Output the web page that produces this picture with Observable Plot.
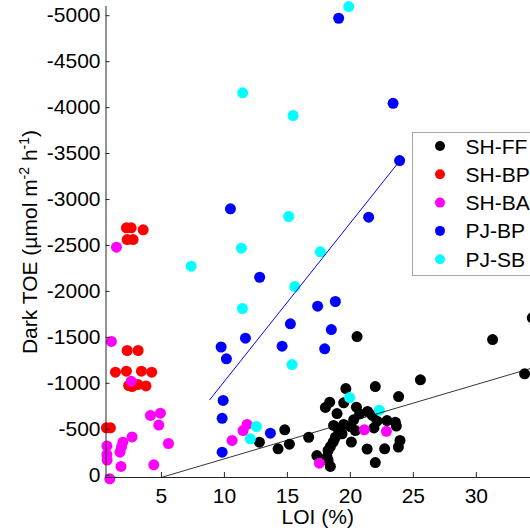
<!DOCTYPE html>
<html><head><meta charset="utf-8">
<script src="https://cdn.jsdelivr.net/npm/d3@7"></script>
<script src="https://cdn.jsdelivr.net/npm/@observablehq/plot@0.6"></script>
<style>html,body{margin:0;padding:0;background:#fff}svg{display:block}</style>
</head><body><div id="chart"></div>
<script>
const series = ["SH-FF", "SH-BP", "SH-BA", "PJ-BP", "PJ-SB"];
const colors = ["#000000", "#ff0000", "#ff00ff", "#0000ff", "#00ffff"];

const shffX = [20.53,31.29,34.44,33.83,25.56,21.98,19.64,23.83,19.47,18.36,18.02,18.94,20.48,21.37,21.75,20.74,20.26,22.12,22.91,23.57,23.65,18.67,19.47,20.00,19.07,19.34,20.40,21.87,18.81,18.63,18.41,18.23,16.69,15.16,20.08,23.94,23.81,21.33,22.72,17.34,18.15,18.23,21.98,18.41,14.79,12.78,14.26];
const shffY = [-1509,-1476,-1713,-1103,-1038,-965,-943,-856,-788,-794,-737,-671,-740,-693,-650,-668,-603,-588,-595,-577,-535,-541,-552,-530,-486,-450,-486,-514,-413,-359,-312,-269,-413,-337,-361,-378,-307,-285,-287,-214,-196,-160,-138,-95,-494,-359,-287];

const shbpX = [2.22,2.60,3.55,2.28,2.75,2.28,3.15,1.35,2.22,3.41,4.23,2.40,2.67,3.13,3.77,0.63,0.95];
const shbpY = [-2692,-2692,-2670,-2564,-2564,-1357,-1357,-1121,-1132,-1132,-1121,-976,-965,-987,-971,-516,-516];

const shbaX = [1.43,1.03,2.60,4.13,4.92,4.79,2.67,1.94,1.83,1.71,0.67,0.67,0.69,1.79,4.39,5.56,0.90,10.61,11.48,11.80,17.54,21.11,22.86];
const shbaY = [-2481,-1455,-1023,-650,-675,-546,-416,-359,-307,-250,-318,-225,-165,-95,-113,-345,39,-378,-486,-552,-131,-494,-478];

const pjbpX = [19.07,23.39,23.91,10.48,21.45,12.80,17.40,18.81,15.24,18.49,11.67,9.74,10.16,14.58,17.96,9.90,9.82,13.65,9.82];
const pjbpY = [-4972,-4047,-3424,-2899,-2807,-2154,-1839,-1890,-1647,-1585,-1491,-1395,-1266,-1404,-1375,-813,-619,-457,-250];

const pjsbX = [19.87,11.45,15.45,15.10,11.35,17.62,7.36,15.58,11.43,15.37,19.94,22.30,12.54,12.06];
const pjsbY = [-5099,-4161,-3914,-2815,-2470,-2431,-2274,-2053,-1814,-1204,-845,-707,-530,-396];

// fitted lines (endpoints)
const fitFFX = [4.97, 34.3];
const fitFFY = [25, -1161];
const fitBPX = [8.83, 23.9];
const fitBPY = [-820, -3417];

const xTicks = [5, 10, 15, 20, 25, 30];
const yTicks = [0, -500, -1000, -1500, -2000, -2500, -3000, -3500, -4000, -4500, -5000];
const xLabel = "LOI (%)";

const allX = [shffX, shbpX, shbaX, pjbpX, pjsbX];
const allY = [shffY, shbpY, shbaY, pjbpY, pjsbY];
const rows = [];
series.forEach((s, i) => allX[i].forEach((x, j) => rows.push({s, x, y: allY[i][j]})));
const fitFF = fitFFX.map((x, i) => ({x, y: fitFFY[i]}));
const fitBP = fitBPX.map((x, i) => ({x, y: fitBPY[i]}));

const W = 530, H = 531;
const mL = 105.5, mT = 6, mB = 54;
const font = "'Liberation Sans', Arial, Helvetica, sans-serif";

const svg = Plot.plot({
  width: W, height: H,
  marginLeft: mL, marginRight: 0, marginTop: mT, marginBottom: mB,
  style: {fontSize: "21px", fontFamily: font, color: "#000", background: "#fff", overflow: "hidden"},
  x: {domain: [0.6, 34.3]},
  y: {domain: [25, -5100]},
  color: {domain: series, range: colors},
  marks: [
    Plot.dot(rows, {x: "x", y: "y", fill: "s", r: 5.5, stroke: "none"}),
    Plot.line(fitFF, {x: "x", y: "y", stroke: "#000", strokeWidth: 0.8, clip: true}),
    Plot.line(fitBP, {x: "x", y: "y", stroke: "#0000ff", strokeWidth: 1}),
    Plot.axisY({ticks: yTicks, tickFormat: d => String(d), tickSize: -4, tickPadding: 9.5, label: null, stroke: "#262626"}),
    Plot.axisX({ticks: xTicks, tickFormat: d => String(d), tickSize: -5, tickPadding: 16, label: null, stroke: "#262626"}),
    Plot.ruleX([0.6], {stroke: "#262626"}),
    Plot.ruleY([25], {stroke: "#262626"})
  ]
});

const s = d3.select(svg);
// x label
s.append("text").attr("x", (mL + W) / 2).attr("y", 524).attr("text-anchor", "middle")
  .attr("font-size", 21).attr("font-family", font).attr("fill", "#000").text(xLabel);
// y label with superscripts
const yl = s.append("text").attr("transform", "translate(37,242) rotate(-90)")
  .attr("text-anchor", "middle").attr("font-size", 21).attr("font-family", font).attr("fill", "#000");
yl.append("tspan").text("Dark TOE (\u00b5mol m");
yl.append("tspan").attr("dy", -8).attr("font-size", 14).text("-2");
yl.append("tspan").attr("dy", 8).text(" h");
yl.append("tspan").attr("dy", -8).attr("font-size", 14).text("-1");
yl.append("tspan").attr("dy", 8).text(")");

// legend
const lg = s.append("g").attr("text-anchor", "start");
lg.append("rect").attr("x", 412.5).attr("y", 132.5).attr("width", 140).attr("height", 143)
  .attr("fill", "#fff").attr("stroke", "#a8a8a8").attr("stroke-width", 1);
series.forEach((name, i) => {
  const cy = 146 + i * 28.3;
  lg.append("circle").attr("cx", 440).attr("cy", cy).attr("r", 5).attr("fill", colors[i]);
  lg.append("text").attr("x", 465.5).attr("y", cy).attr("dy", "0.36em").attr("font-size", 21)
    .attr("text-anchor", "start").attr("font-family", font).attr("fill", "#000").text(name);
});

document.getElementById("chart").appendChild(svg);
</script>
</body></html>
